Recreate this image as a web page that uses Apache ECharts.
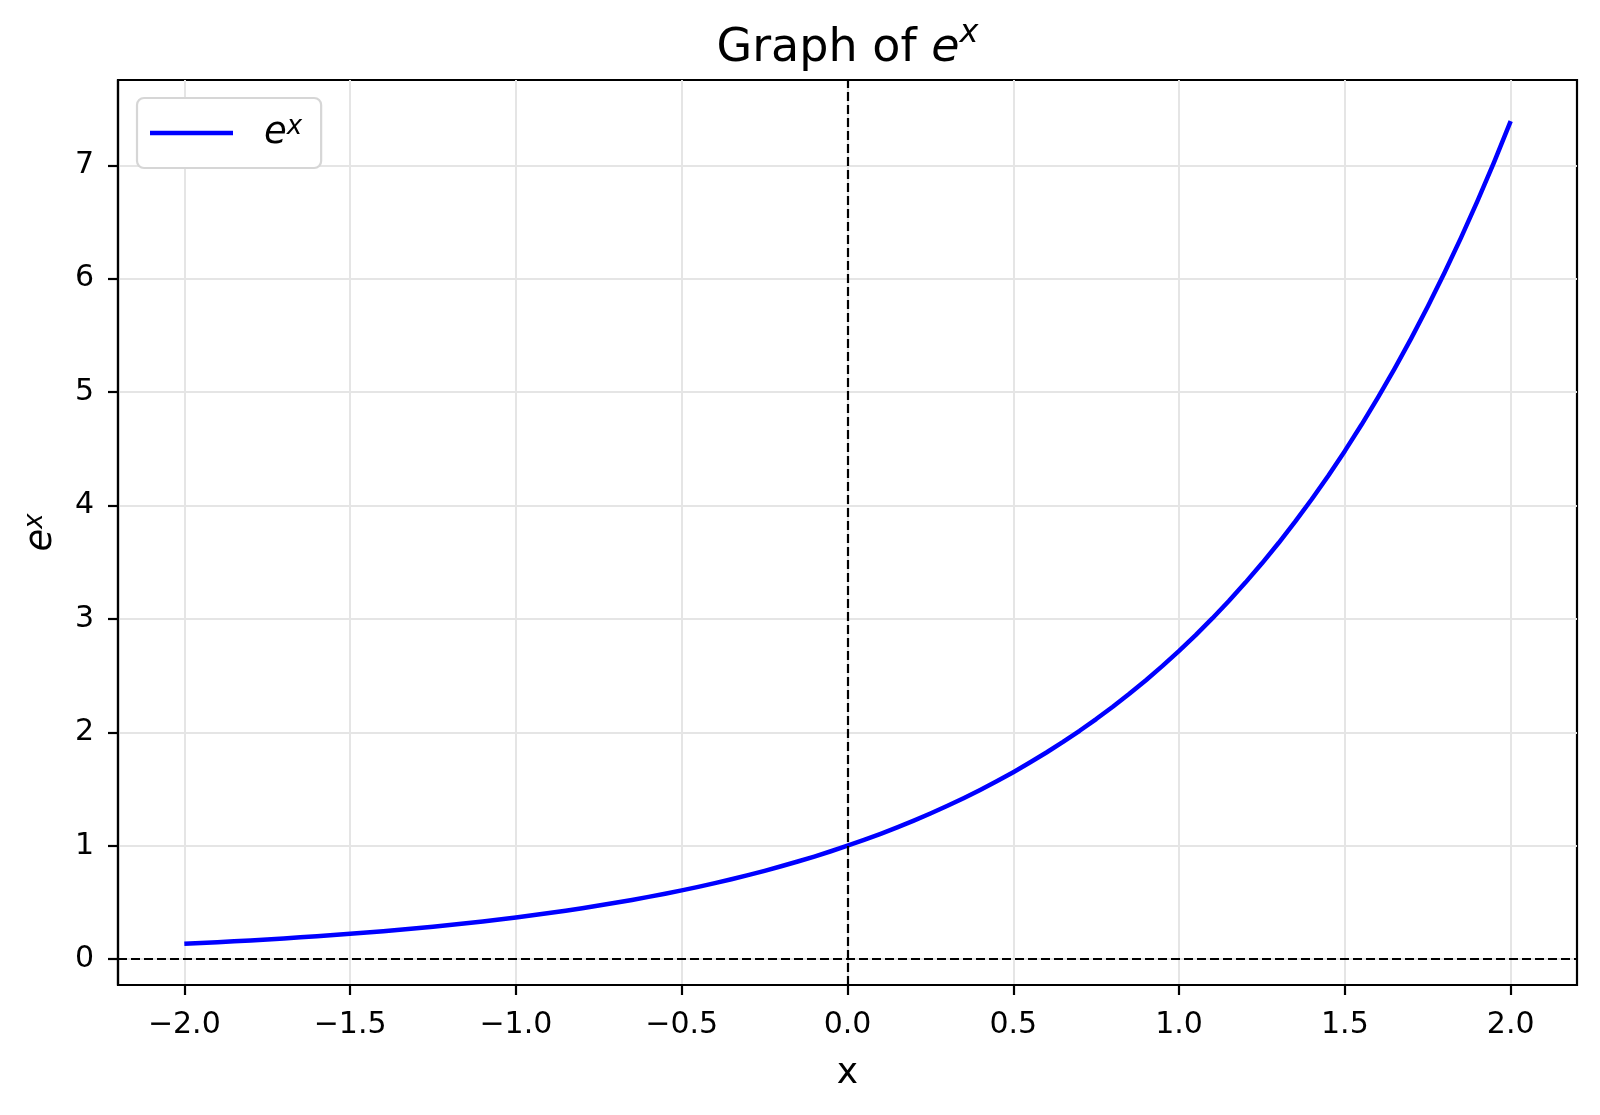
<!DOCTYPE html>
<html>
<head>
<meta charset="utf-8">
<script src="https://cdn.jsdelivr.net/npm/echarts@6/dist/echarts.min.js"></script>
<style>
html,body{margin:0;padding:0;background:#fff;}
#chart{width:1600px;height:1115px;}
</style>
</head>
<body>
<div id="chart"></div>
<script>
// x values and e^x values
const xValues = [
  -2.00,-1.95,-1.90,-1.85,-1.80,-1.75,-1.70,-1.65,-1.60,-1.55,
  -1.50,-1.45,-1.40,-1.35,-1.30,-1.25,-1.20,-1.15,-1.10,-1.05,
  -1.00,-0.95,-0.90,-0.85,-0.80,-0.75,-0.70,-0.65,-0.60,-0.55,
  -0.50,-0.45,-0.40,-0.35,-0.30,-0.25,-0.20,-0.15,-0.10,-0.05,
  0.00,0.05,0.10,0.15,0.20,0.25,0.30,0.35,0.40,0.45,
  0.50,0.55,0.60,0.65,0.70,0.75,0.80,0.85,0.90,0.95,
  1.00,1.05,1.10,1.15,1.20,1.25,1.30,1.35,1.40,1.45,
  1.50,1.55,1.60,1.65,1.70,1.75,1.80,1.85,1.90,1.95,
  2.00];
const yValues = [
  0.1353,0.1423,0.1496,0.1572,0.1653,0.1738,0.1827,0.1920,0.2019,0.2122,
  0.2231,0.2346,0.2466,0.2592,0.2725,0.2865,0.3012,0.3166,0.3329,0.3499,
  0.3679,0.3867,0.4066,0.4274,0.4493,0.4724,0.4966,0.5220,0.5488,0.5769,
  0.6065,0.6376,0.6703,0.7047,0.7408,0.7788,0.8187,0.8607,0.9048,0.9512,
  1.0000,1.0513,1.1052,1.1618,1.2214,1.2840,1.3499,1.4191,1.4918,1.5683,
  1.6487,1.7333,1.8221,1.9155,2.0138,2.1170,2.2255,2.3396,2.4596,2.5857,
  2.7183,2.8577,3.0042,3.1582,3.3201,3.4903,3.6693,3.8574,4.0552,4.2631,
  4.4817,4.7115,4.9530,5.2070,5.4739,5.7546,6.0496,6.3598,6.6859,7.0287,
  7.3891];
const xTicks = [-2.0,-1.5,-1.0,-0.5,0.0,0.5,1.0,1.5,2.0];
const yTicks = [0,1,2,3,4,5,6,7];
const xRange = [-2.2, 2.2];
const yRange = [-0.228, 7.752];
const refX = 0, refY = 0;

const FONT = 'DejaVu Sans';
const chart = echarts.init(document.getElementById('chart'), null, {renderer: 'canvas'});
const seriesData = xValues.map((x, i) => [x, yValues[i]]);
const fmtMinus = (v, d) => (v < 0 ? '\u2212' : '') + Math.abs(v).toFixed(d);

const supRich = (big, small, lh) => ({
  n: {fontFamily: FONT, fontSize: big, color: '#000', lineHeight: lh, verticalAlign: 'bottom'},
  i: {fontFamily: FONT, fontSize: big, fontStyle: 'italic', color: '#000', lineHeight: lh, verticalAlign: 'bottom'},
  s: {fontFamily: FONT, fontSize: small, fontStyle: 'italic', color: '#000', lineHeight: small, verticalAlign: 'top'}
});

chart.setOption({
  animation: false,
  backgroundColor: '#fff',
  graphic: [{
    type: 'text',
    x: 847.5,
    y: 45,
    style: {
      text: '{n|Graph of }{i|e}{s|x}',
      align: 'center',
      verticalAlign: 'middle',
      rich: supRich(46, 32, 54)
    }
  }],
  grid: {
    left: 118, right: 23, top: 80, bottom: 130,
    show: true, borderColor: '#000', borderWidth: 2.2, backgroundColor: 'transparent'
  },
  legend: {
    left: 137, top: 98,
    orient: 'vertical',
    padding: [16, 19, 16, 13],
    backgroundColor: '#fff',
    borderColor: '#d6d6d6', borderWidth: 2.2, borderRadius: 7,
    icon: 'rect', itemWidth: 83, itemHeight: 4.5,
    formatter: () => '{i|e}{s|x}',
    textStyle: {
      rich: Object.assign(supRich(37, 26, 38), {
        i: {fontFamily: FONT, fontSize: 37, fontStyle: 'italic', color: '#000', lineHeight: 38, verticalAlign: 'bottom', padding: [0, 0, 0, 26]}
      })
    }
  },
  xAxis: {
    type: 'value', min: xRange[0], max: xRange[1], splitNumber: 9,
    name: 'x', nameLocation: 'middle', nameGap: 71,
    nameTextStyle: {fontFamily: FONT, fontSize: 36, color: '#000'},
    axisLine: {show: true, onZero: false, lineStyle: {color: '#000', width: 2.2}},
    axisTick: {show: true, inside: false, length: 10, customValues: xTicks, lineStyle: {color: '#000', width: 2.2}},
    axisLabel: {customValues: xTicks, margin: 25, fontFamily: FONT, fontSize: 30, color: '#000',
      formatter: v => fmtMinus(v, 1)},
    splitLine: {show: true, lineStyle: {color: '#e5e5e5', width: 2}}
  },
  yAxis: {
    type: 'value', min: yRange[0], max: yRange[1], splitNumber: 8,
    name: '{i|e}{s|x}', nameLocation: 'middle', nameRotate: 90, nameGap: 58,
    nameTextStyle: {rich: supRich(37, 26, 38)},
    axisLine: {show: true, onZero: false, lineStyle: {color: '#000', width: 2.2}},
    axisTick: {show: true, inside: false, length: 10, customValues: yTicks, lineStyle: {color: '#000', width: 2.2}},
    axisLabel: {customValues: yTicks, margin: 24, fontFamily: FONT, fontSize: 30, color: '#000',
      formatter: v => fmtMinus(v, 0)},
    splitLine: {show: true, lineStyle: {color: '#e5e5e5', width: 2}}
  },
  series: [{
    name: 'e^x',
    type: 'line',
    data: seriesData,
    showSymbol: false,
    symbol: 'none',
    smooth: false,
    lineStyle: {color: '#0000ff', width: 4.5, join: 'round'},
    itemStyle: {color: '#0000ff'},
    z: 3,
    markLine: {
      silent: true,
      symbol: ['none', 'none'],
      label: {show: false},
      lineStyle: {color: '#000', width: 2.2, type: [9, 4]},
      data: [{xAxis: refX}, {yAxis: refY}]
    }
  }]
});
</script>
</body>
</html>
